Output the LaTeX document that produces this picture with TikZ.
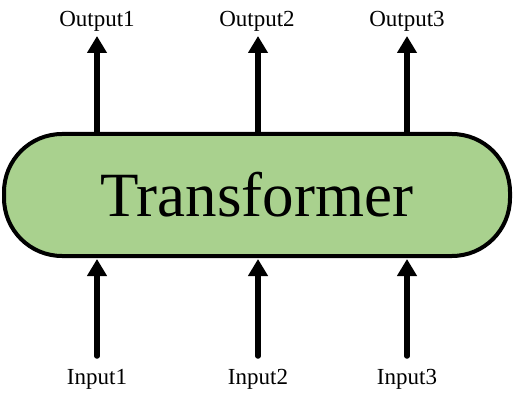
\documentclass[tikz,border=0pt]{standalone}
\usepackage{fontspec}
\setmainfont{Liberation Serif}
\usetikzlibrary{arrows.meta}
\definecolor{tgreen}{HTML}{A9D18E}
\tikzset{
  box/.style={draw=black, line width=4pt, fill=tgreen, rounded corners=58pt,
    minimum width=506pt, minimum height=122pt, inner sep=0pt,
    font=\fontsize{63}{63}\selectfont},
  lbl/.style={font=\fontsize{23}{23}\selectfont, inner sep=0pt},
  arr/.style={line width=5.5pt, -{Triangle[length=17pt,width=19pt]}},
  arrin/.style={arr, line cap=round}
}
\begin{document}
\begin{tikzpicture}[x=1pt,y=-1pt]
\useasboundingbox (0,0) rectangle (516,403);
\node[box] (t) at (257,195) {Transformer};
\node[lbl] (o1) at (97,21) {Output1};
\node[lbl] (o2) at (257,21) {Output2};
\node[lbl] (o3) at (407,21) {Output3};
\node[lbl] (i1) at (97,379) {Input1};
\node[lbl] (i2) at (258,379) {Input2};
\node[lbl] (i3) at (407,379) {Input3};
\coordinate (a1) at (97,356);
\coordinate (a2) at (258,356);
\coordinate (a3) at (407,356);
\coordinate (b1) at (97,259);
\coordinate (b2) at (258,259);
\coordinate (b3) at (407,259);
\coordinate (c1) at (97,134);
\coordinate (c2) at (258,134);
\coordinate (c3) at (407,134);
\coordinate (d1) at (97,36);
\coordinate (d2) at (258,36);
\coordinate (d3) at (407,36);
\draw[arrin] (a1) -- (b1);
\draw[arrin] (a2) -- (b2);
\draw[arrin] (a3) -- (b3);
\draw[arr] (c1) -- (d1);
\draw[arr] (c2) -- (d2);
\draw[arr] (c3) -- (d3);
\end{tikzpicture}
\end{document}
